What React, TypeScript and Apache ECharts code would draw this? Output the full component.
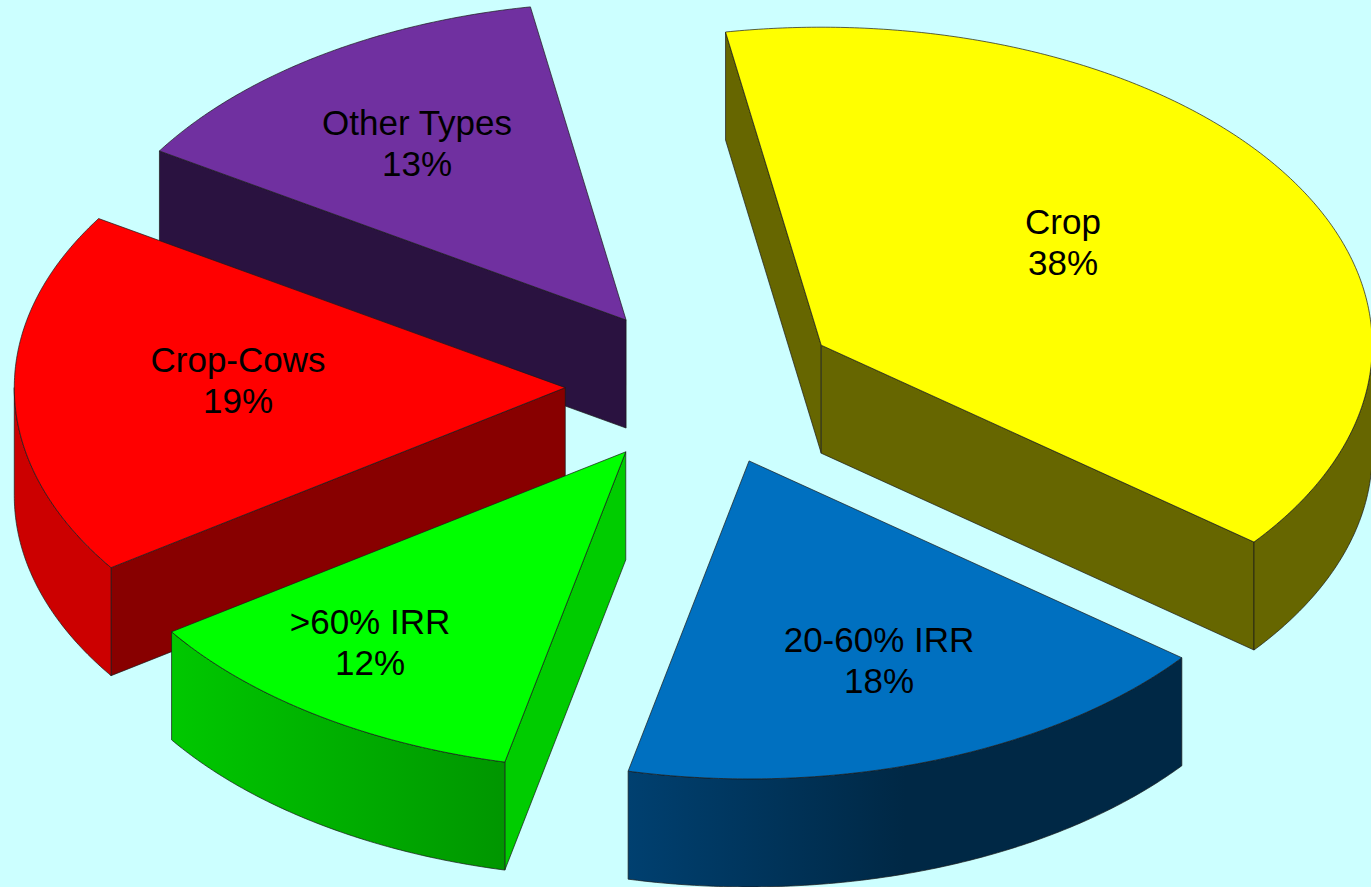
import React, { useEffect, useRef } from "react";
import * as echarts from "echarts";

// Data
const categories = ["Crop", "20-60% IRR", ">60% IRR", "Crop-Cows", "Other Types"];
const shares = [38.4, 17.9, 11.9, 18.5, 13.3];

// Styles
const topColors = ["#FFFF00", "#0070C0", "#00FF00", "#FF0000", "#7030A0"];
const wallColors = ["#666600", "#003050", "#00CC00", "#880000", "#2A1240"];
const rimColorsFrom = ["#666600", "#004070", "#00C800", "#CC0000", "#2A1240"];
const rimColorsTo = ["#666600", "#002845", "#009600", "#CC0000", "#2A1240"];
const rimGradientEnds = [1, 0.5, 1, 1, 1];
const labelPositions = [
  [1063, 242],
  [879, 660],
  [370, 642],
  [238, 380],
  [417, 143],
];

// Projection of the pie
const CENTER_X = 703;
const CENTER_Y = 386;
const RADIUS_X = 551;
const RADIUS_Y = 318;
const DEPTH = 108;
const EXPLODE = 0.25;
const START_ANGLE = -10;
const EDGE = "#1a1a1a";
const FONT = '35px "Liberation Sans", Arial, sans-serif';

const total = shares.reduce((a, b) => a + b, 0);
const rad = (d: number) => (d * Math.PI) / 180;

function renderSlice(params: any, api: any) {
  const i = params.dataIndex;
  const value = api.value(0);
  const before = shares.slice(0, i).reduce((a, b) => a + b, 0);
  const start = START_ANGLE + (before / total) * 360;
  const end = start + (value / total) * 360;
  const mid = (start + end) / 2;
  const ax = CENTER_X + RADIUS_X * EXPLODE * Math.sin(rad(mid));
  const ay = CENTER_Y - RADIUS_Y * EXPLODE * Math.cos(rad(mid));
  const pt = (deg: number): number[] => [
    ax + RADIUS_X * Math.sin(rad(deg)),
    ay - RADIUS_Y * Math.cos(rad(deg)),
  ];
  const arc = (from: number, to: number): number[][] => {
    const n = Math.max(2, Math.ceil(Math.abs(to - from) * 2));
    const out: number[][] = [];
    for (let k = 0; k <= n; k++) out.push(pt(from + ((to - from) * k) / n));
    return out;
  };
  const drop = (p: number[]) => [p[0], p[1] + DEPTH];
  const base = Math.round(ay) * 10;
  const children: any[] = [];
  let order = 0;
  const face = (points: number[][], fill: any) => {
    children.push({
      type: "polygon",
      z2: base + order++,
      shape: { points },
      style: { fill, stroke: EDGE, lineWidth: 0.7, lineJoin: "round" },
    });
  };
  const apex = [ax, ay];
  if (Math.sin(rad(start)) < 0) {
    const p = pt(start);
    face([apex, p, drop(p), drop(apex)], wallColors[i]);
  }
  if (Math.sin(rad(end)) > 0) {
    const p = pt(end);
    face([apex, p, drop(p), drop(apex)], wallColors[i]);
  }
  // Outer rim: only the part of the arc that faces the viewer
  const a = Math.max(start, 90);
  const b = Math.min(end, 270);
  if (b > a) {
    const top = arc(a, b);
    face(top.concat(top.map(drop).reverse()), {
      type: "linear",
      x: 0,
      y: 0,
      x2: 1,
      y2: 0,
      colorStops: [
        { offset: 0, color: rimColorsFrom[i] },
        { offset: rimGradientEnds[i], color: rimColorsTo[i] },
        { offset: 1, color: rimColorsTo[i] },
      ],
    });
  }
  face([apex, ...arc(start, end)], topColors[i]);
  children.push({
    type: "text",
    z2: 100000,
    x: labelPositions[i][0],
    y: labelPositions[i][1],
    style: {
      text: `${categories[i]}\n${Math.round(value)}%`,
      fill: "#000000",
      font: FONT,
      align: "center",
      verticalAlign: "middle",
      lineHeight: 41,
    },
  });
  return { type: "group", children };
}

export default function App() {
  const ref = useRef<HTMLDivElement>(null);
  useEffect(() => {
    document.body.style.margin = "0";
    document.body.style.overflow = "hidden";
    const chart = echarts.init(ref.current!, undefined, { renderer: "svg" });
    chart.setOption({
      animation: false,
      backgroundColor: "#CCFFFF",
      tooltip: { show: false },
      series: [
        {
          type: "custom",
          coordinateSystem: "none",
          silent: true,
          clip: false,
          renderItem: renderSlice,
          data: shares.map((v, i) => ({ name: categories[i], value: [v] })),
        },
      ],
    });
    return () => chart.dispose();
  }, []);
  return <div ref={ref} style={{ width: 1371, height: 887 }} />;
}
